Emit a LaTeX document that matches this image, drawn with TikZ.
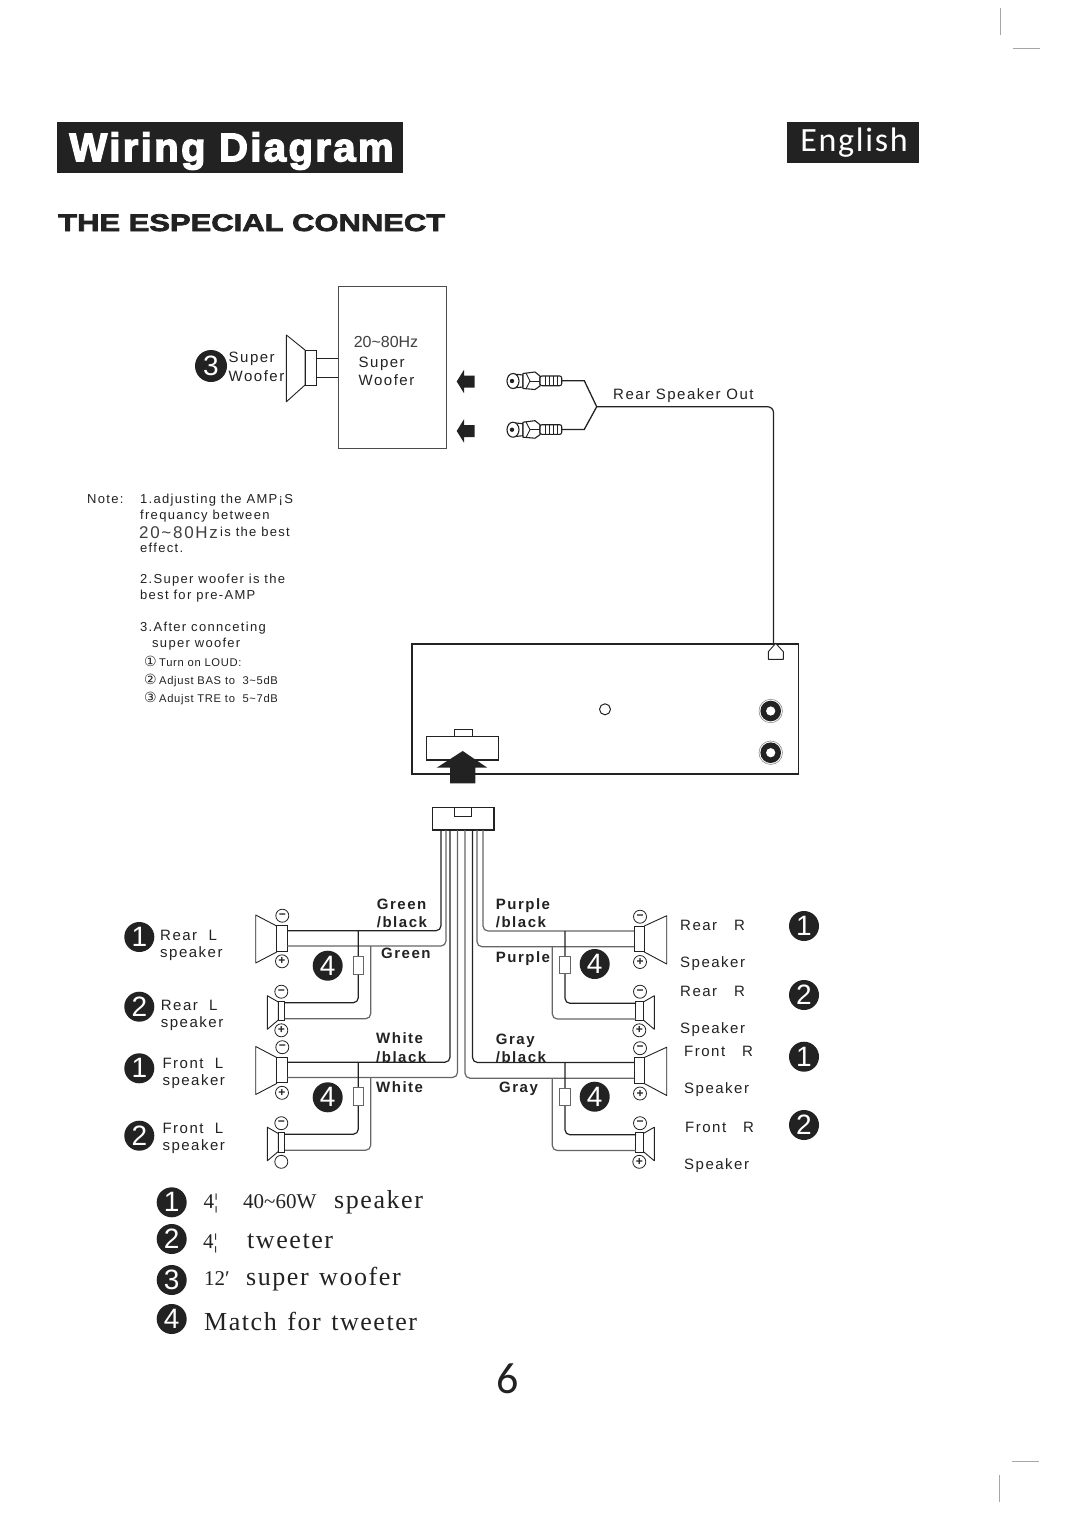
\documentclass[tikz,border=0pt]{standalone}
\usepackage{fontspec}
\setmainfont{Liberation Sans}
\setsansfont{Liberation Sans}
\newfontfamily\labf[LetterSpace=10]{Liberation Sans}
\newfontfamily\notef[LetterSpace=10]{Liberation Sans}
\newfontfamily\snotef[LetterSpace=6]{Liberation Sans}
\newfontfamily\headf[LetterSpace=6,BoldFeatures={FakeBold=3.5}]{Liberation Sans}
\newfontfamily\subf[BoldFeatures={FakeBold=3,FakeStretch=1.29}]{Liberation Sans}
\newfontfamily\engf[LetterSpace=5]{Carlito}
\newfontfamily\numf{Carlito}
\newfontfamily\legf[LetterSpace=6,WordSpace=1.3]{Liberation Serif}
\newfontfamily\legn{Liberation Serif}
\newfontfamily\cnum{DejaVu Sans}
\newcommand{\fs}[1]{\fontsize{#1}{#1}\selectfont}
\newcommand{\tld}{\textasciitilde}
\newcommand{\cdig}[1]{\makebox[15pt][l]{\cnum\fs{14}#1}}
\definecolor{ink}{HTML}{222222}
\definecolor{wireg}{HTML}{666666}
\tikzset{
  x=1pt,y=-1pt,
  part/.style={draw=ink,line width=0.9pt,line join=round},
  wire/.style={draw=ink,line width=1.2pt,rounded corners=5pt},
  wirel/.style={draw=wireg,line width=1.2pt,rounded corners=5pt},
  boxn/.style={draw=ink,fill=white,line width=1pt,inner sep=0pt,rectangle},
  pole/.style={draw=ink,line width=0.8pt,circle,minimum size=13pt,inner sep=0pt,text=ink,font=\fs{12}\bfseries},
  badge/.style={circle,fill=ink,minimum size=30pt,inner sep=0pt,text=white,font=\sffamily\fs{28}},
  lab/.style={anchor=base west,inner sep=0pt,text=ink,font=\labf\fs{15}},
  blab/.style={anchor=base west,inner sep=0pt,text=ink,font=\labf\bfseries\fs{15}},
  note/.style={anchor=base west,inner sep=0pt,text=ink,font=\notef\fs{13}},
  snote/.style={anchor=base west,inner sep=0pt,text=ink,font=\snotef\fs{11.2}},
  leg/.style={anchor=base west,inner sep=0pt,text=ink,font=\legf\fs{26}},
  cropmark/.style={draw=black!35,line width=1pt}
}
% name, y offset, bottom-circle text
\newcommand{\speakerL}[3]{\begin{scope}[shift={(0,#2)}]
  \draw[part] (255.7,915)--(276.7,926)--(276.7,952)--(255.7,963)--cycle;
  \node[boxn,minimum width=10.6pt,minimum height=25.5pt] (#1) at (282,938.4) {};
  \node[pole] (#1m) at (282.3,915.7) {\textminus};
  \node[pole] (#1p) at (282,961.3) {#3};
  \coordinate (#1u) at (287.3,930.7);
  \coordinate (#1l) at (287.3,946);
\end{scope}}
\newcommand{\tweeterL}[3]{\begin{scope}[shift={(0,#2)}]
  \draw[part] (267.3,995.7)--(278.3,1002)--(278.3,1020)--(267.3,1029.3)--cycle;
  \node[boxn,minimum width=6.7pt,minimum height=19.7pt] (#1) at (281.6,1010.9) {};
  \node[pole] (#1m) at (281.3,991.7) {\textminus};
  \node[pole] (#1p) at (281.3,1030.3) {#3};
  \coordinate (#1u) at (285,1002.7);
  \coordinate (#1l) at (285,1018.7);
\end{scope}}
\newcommand{\speakerR}[2]{\begin{scope}[shift={(0,#2)}]
  \draw[part] (666.7,915.7)--(644.3,926)--(644.3,952)--(666.7,964)--cycle;
  \node[boxn,minimum width=10.4pt,minimum height=25.7pt] (#1) at (639.2,938.9) {};
  \node[pole] (#1m) at (640,916.7) {\textminus};
  \node[pole] (#1p) at (640,962) {+};
  \coordinate (#1u) at (634,931);
  \coordinate (#1l) at (634,946.7);
\end{scope}}
\newcommand{\tweeterR}[2]{\begin{scope}[shift={(0,#2)}]
  \draw[part] (654.3,995.7)--(643.3,1002)--(643.3,1020)--(654.3,1029.3)--cycle;
  \node[boxn,minimum width=7.3pt,minimum height=19.7pt] (#1) at (639.6,1010.9) {};
  \node[pole] (#1m) at (640,991.7) {\textminus};
  \node[pole] (#1p) at (639.3,1030.3) {+};
  \coordinate (#1u) at (636,1003.3);
  \coordinate (#1l) at (636,1019);
\end{scope}}
\newcommand{\rca}[2]{\begin{scope}[shift={(0,#2)}]
  \draw[part,line width=1.1pt,fill=white] (513,374)--(523,375)--(523,387)--(513,388)--cycle;
  \draw[part,line width=1.1pt,fill=white] (513,381) ellipse (6pt and 7.5pt);
  \fill[ink] (512,381) circle (2.2pt);
  \draw[part,line width=1.1pt,fill=white] (523,373.5)--(535,372)--(540,376)--(540,386)--(535,389.5)--(523,388.5)--cycle;
  \draw[part] (526,373.2)--(530,381)--(526,388.8);
  \draw[part] (530,381)--(540,381);
  \draw[part,line width=1.1pt,fill=white,rounded corners=2pt] (540,376) rectangle (561.7,385.7);
  \foreach \tx in {545,549,553,557} \draw[part] (\tx,376)--(\tx,385.7);
  \coordinate (#1) at (561.7,380.7);
\end{scope}}
\newcommand{\larrow}[1]{\fill[ink,shift={(0,#1)}] (456.7,0)--(464,-11.7)--(464,-6)--(474.6,-6)--(474.6,6)--(464,6)--(464,11.7)--cycle;}
\begin{document}
\begin{tikzpicture}
\useasboundingbox (0,0) rectangle (1080,1515);
\fill[white] (0,0) rectangle (1080,1515);
% crop marks
\coordinate (m1a) at (1000,8); \coordinate (m1b) at (1000,35);
\coordinate (m2a) at (1013,48.7); \coordinate (m2b) at (1040,48.7);
\coordinate (m3a) at (1012,1461); \coordinate (m3b) at (1039,1461);
\coordinate (m4a) at (999,1475); \coordinate (m4b) at (999,1502);
\draw[cropmark] (m1a)--(m1b); \draw[cropmark] (m2a)--(m2b); \draw[cropmark] (m3a)--(m3b); \draw[cropmark] (m4a)--(m4b);
% headers
\fill[ink] (56.7,121.7) rectangle (403.3,173.3);
\node[anchor=center,text=white,font=\headf\bfseries\fs{40},inner sep=0pt] (title) at (231.5,151) {Wiring Diagram};
\fill[ink] (787.3,122.3) rectangle (919.3,162.7);
\node[anchor=center,text=white,font=\engf\fs{34},inner sep=0pt] (english) at (854,143) {English};
\node[anchor=base west,text=ink,font=\subf\bfseries\fs{24},inner sep=0pt] (sub) at (58,231) {THE ESPECIAL CONNECT};
% sub woofer box
\node[boxn,draw=black!70,minimum width=108pt,minimum height=162pt] (subbox) at (392,367) {};
\draw[part] (286.4,335)--(305,350)--(305,385)--(286.4,401.7)--cycle;
\node[boxn,minimum width=11pt,minimum height=35pt] (wmag) at (310.5,367.5) {};
\coordinate (wa) at (316,358.3); \coordinate (wb) at (316,377.3);
\coordinate (wc) at (338,358.3); \coordinate (wd) at (338,377.3);
\draw[part] (wa)--(wc); \draw[part] (wb)--(wd);
\node[badge,minimum size=32pt] (b3a) at (211,366) {3};
\node[lab,anchor=base west] (sw1) at (228.5,362) {Super};
\node[lab,anchor=base west] (sw2) at (228.5,381.5) {Woofer};
\node[anchor=base,inner sep=0pt,text=black!75,font=\fs{16}] (hz) at (386,347.5) {20\tld 80Hz};
\node[lab] (sw3) at (358.5,367.5) {Super};
\node[lab] (sw4) at (358.5,385.5) {Woofer};
\larrow{381.5}\larrow{431}
% RCA cables
\rca{ra}{0}\rca{rb}{48.7}
\coordinate (yj) at (596.7,406.7);
\coordinate (ya) at (584.3,380.7);
\coordinate (yb) at (584.3,429.4);
\coordinate (ant) at (773.5,644);
\draw[draw=ink,line width=1.3pt] (ra)--(ya)--(yj)--(yb)--(rb);
\draw[wire,rounded corners=6pt] (yj) -| (ant);
\node[anchor=base west,inner sep=0pt,text=ink,font=\labf\fs{15}] (rso) at (613,399.5) {Rear Speaker Out};
% notes
\node[note] (n0) at (87,503) {Note:};
\node[note] (n1) at (140,503) {1.adjusting the AMP¡S};
\node[note] (n2) at (140,519) {frequancy between};
\node[anchor=base west,inner sep=0pt,text=black!75,font=\notef\fs{17}] (n3) at (139,538.5) {20\tld 80Hz};
\node[note] (n3b) at (220,536) {is the best};
\node[note] (n4) at (140,552) {effect.};
\node[note] (n5) at (140,583) {2.Super woofer is the};
\node[note] (n6) at (140,599) {best for pre-AMP};
\node[note] (n7) at (140,631) {3.After connceting};
\node[note] (n8) at (152,647) {super woofer};
\node[snote] (n9) at (144,666.5) {\cdig{①}Turn on LOUD:};
\node[snote] (n10) at (144,684.5) {\cdig{②}Adjust BAS to \ 3\tld 5dB};
\node[snote] (n11) at (144,702.5) {\cdig{③}Adujst TRE to \ 5\tld 7dB};
% head unit
\node[draw=ink,line width=1.6pt,fill=white,rectangle,inner sep=0pt,minimum width=386.6pt,minimum height=130pt] (unit) at (605,709) {};
\draw[part,fill=white] (768.3,651.7)--(775.7,643.3)--(783.3,651.7)--(783.3,659.3)--(768.3,659.3)--cycle;
\draw[wire] (773.5,635)--(ant);
\draw[part,line width=1pt] (605,709.3) circle (5.5pt);
\foreach \jy/\jn in {711/ja,752.7/jb}{
  \node[circle,draw=black!45,line width=0.6pt,fill=white,minimum size=23.5pt,inner sep=0pt] (\jn) at (770.7,\jy) {};
  \fill[ink] (770.7,\jy) circle (10.3pt);
  \fill[white] (770.7,\jy) circle (4.6pt);
}
\node[boxn,line width=1.3pt,minimum width=71.6pt,minimum height=23.3pt] (sock) at (462.5,748.3) {};
\node[boxn,minimum width=18pt,minimum height=6.7pt] (socktab) at (463.3,733.3) {};
\fill[ink] (462.7,751)--(487.3,767.7)--(475.3,767.7)--(475.3,783.3)--(450,783.3)--(450,767.7)--(436.7,767.7)--cycle;
% harness connector
\node[boxn,line width=1.5pt,minimum width=61.7pt,minimum height=22.7pt] (conn) at (463.2,818.6) {};
\node[boxn,minimum width=16.7pt,minimum height=9.4pt] (conntab) at (463.3,812) {};
\foreach \n/\wx in {w1/441,w2/446,w3/450,w4/457.5,w5/465,w6/472.5,w7/477,w8/483}
  \coordinate (\n) at (\wx,830);
% speakers
\speakerL{rl}{0}{+}
\tweeterL{rlt}{0}{+}
\speakerL{fl}{131.5}{+}
\tweeterL{flt}{131.5}{}
\speakerR{rr}{0}
\tweeterR{rrt}{0}
\speakerR{fr}{131.5}
\tweeterR{frt}{131.5}
% harness wires
\draw[wire] (w1) |- (rlu);
\draw[wirel] (w2) |- (rll);
\draw[wire] (w3) |- (flu);
\draw[wirel] (w4) |- (fll);
\draw[wirel] (w5) |- (frl);
\draw[wire] (w6) |- (fru);
\draw[wirel] (w7) |- (rrl);
\draw[wirel] (w8) |- (rru);
% tweeter branches
\coordinate (j1) at (358.3,930.7); \coordinate (j2) at (370.7,946);
\coordinate (j3) at (358.3,1062.2); \coordinate (j4) at (370.7,1077.5);
\coordinate (j5) at (565,931); \coordinate (j6) at (552.3,946.7);
\coordinate (j7) at (565,1062.5); \coordinate (j8) at (552.3,1078.2);
\draw[wire] (j1) |- (rltu); \draw[wirel] (j2) |- (rltl);
\draw[wire] (j3) |- (fltu); \draw[wirel] (j4) |- (fltl);
\draw[wire] (j5) |- (rrtu); \draw[wirel] (j6) |- (rrtl);
\draw[wire] (j7) |- (frtu); \draw[wirel] (j8) |- (frtl);
% match resistors
\node[boxn,draw=black!60,minimum width=10pt,minimum height=18pt] (m1) at (358.3,965) {};
\node[boxn,draw=black!60,minimum width=10pt,minimum height=18pt] (m2) at (358.3,1096.5) {};
\node[boxn,draw=black!60,minimum width=10.7pt,minimum height=17.3pt] (m3) at (564.7,965.3) {};
\node[boxn,draw=black!60,minimum width=10.7pt,minimum height=17.3pt] (m4) at (564.7,1096.8) {};
% badges
\node[badge] (bl1) at (139.3,937) {1};
\node[badge] (bl2) at (139.3,1006.7) {2};
\node[badge] (bl3) at (139.3,1068.3) {1};
\node[badge] (bl4) at (139.3,1135.7) {2};
\node[badge] (br1) at (804,926) {1};
\node[badge] (br2) at (804,995) {2};
\node[badge] (br3) at (804,1056.7) {1};
\node[badge] (br4) at (804,1125) {2};
\node[badge] (bm1) at (327.7,965.7) {4};
\node[badge] (bm2) at (327.7,1097.3) {4};
\node[badge] (bm3) at (594.7,964) {4};
\node[badge] (bm4) at (594.7,1096.7) {4};
\node[badge] (lg1) at (171.7,1202.3) {1};
\node[badge] (lg2) at (171.7,1239) {2};
\node[badge] (lg3) at (171.7,1280) {3};
\node[badge] (lg4) at (171.7,1319) {4};
% speaker labels
\node[lab] (t1) at (160,940) {Rear\ \ L};
\node[lab] (t2) at (160,957.5) {speaker};
\node[lab] (t3) at (160.7,1010) {Rear\ \ L};
\node[lab] (t4) at (160.7,1027.5) {speaker};
\node[lab] (t5) at (162.3,1068) {Front\ \ L};
\node[lab] (t6) at (162.3,1085.5) {speaker};
\node[lab] (t7) at (162.3,1133) {Front\ \ L};
\node[lab] (t8) at (162.3,1150.5) {speaker};
\node[lab] (t9) at (680,930) {Rear\ \ \ R};
\node[lab] (t10) at (680,967) {Speaker};
\node[lab] (t11) at (680,996) {Rear\ \ \ R};
\node[lab] (t12) at (680,1033) {Speaker};
\node[lab] (t13) at (684,1056.5) {Front\ \ \ R};
\node[lab] (t14) at (684,1093) {Speaker};
\node[lab] (t15) at (685,1132) {Front\ \ \ R};
\node[lab] (t16) at (684,1169) {Speaker};
% wire colour labels
\node[blab] (c1) at (376.7,909) {Green};
\node[blab] (c2) at (376.7,927) {/black};
\node[blab] (c3) at (381,958) {Green};
\node[blab] (c4) at (376,1043) {White};
\node[blab] (c5) at (376,1062) {/black};
\node[blab] (c6) at (376,1092) {White};
\node[blab] (c7) at (495.7,909) {Purple};
\node[blab] (c8) at (495.7,927) {/black};
\node[blab] (c9) at (495.7,962) {Purple};
\node[blab] (c10) at (495.7,1044) {Gray};
\node[blab] (c11) at (495.7,1062) {/black};
\node[blab] (c12) at (499,1092) {Gray};
% legend
\node[anchor=base west,inner sep=0pt,text=ink,font=\legn\fs{21}] (l1) at (203.3,1208) {4¦};
\node[anchor=base west,inner sep=0pt,text=ink,font=\legn\fs{21}] (l1b) at (243,1208) {40\tld 60W};
\node[leg] (l1c) at (334,1208) {speaker};
\node[anchor=base west,inner sep=0pt,text=ink,font=\legn\fs{21}] (l2) at (203,1248) {4¦};
\node[leg] (l2b) at (247,1248) {tweeter};
\node[anchor=base west,inner sep=0pt,text=ink,font=\legn\fs{21}] (l3) at (204,1285) {12′};
\node[leg] (l3b) at (246,1285) {super woofer};
\node[leg] (l4) at (204,1330) {Match for tweeter};
% page number
\node[anchor=center,inner sep=0pt,text=ink,font=\numf\fs{44}] (page) at (507.5,1379) {6};
\end{tikzpicture}
\end{document}
